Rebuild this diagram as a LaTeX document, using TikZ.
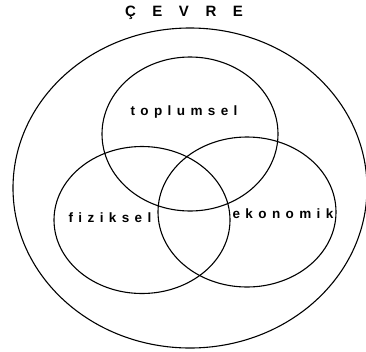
\documentclass[tikz,border=0pt]{standalone}
\usepackage{fontspec}
\setmainfont{Liberation Sans}
\usepackage{tikz}
\usetikzlibrary{shapes.geometric}
\newfontfamily\widefont[LetterSpace=40]{Liberation Sans}
\newfontfamily\titlefont[LetterSpace=110]{Liberation Sans}

\begin{document}
\begin{tikzpicture}[x=1pt, y=-1pt,
  ring/.style={ellipse, draw=black, line width=1.1pt, inner sep=0pt},
  word/.style={font=\widefont\fontsize{13.5}{15}\selectfont\bfseries, anchor=base, inner sep=0pt},
  heading/.style={font=\titlefont\fontsize{15}{17}\selectfont\bfseries, anchor=base, inner sep=0pt}
]
  \useasboundingbox (0,0) rectangle (366,351);
  % outer ring and the three areas
  \node[ring, minimum width=354pt, minimum height=320pt] (env) at (190,188) {};
  \node[ring, minimum width=176pt, minimum height=154pt] (soc) at (190,134) {};
  \node[ring, minimum width=176pt, minimum height=147pt] (phy) at (142,220) {};
  \node[ring, minimum width=178pt, minimum height=150pt] (eco) at (247,212) {};
  % labels
  \node[heading] (envlbl) at (184,16) {ÇEVRE};
  \node[word] (soclbl) at (184,115) {toplumsel};
  \node[word] (phylbl) at (110,222) {fiziksel};
  \node[word] (ecolbl) at (283,218) {ekonomik};
\end{tikzpicture}
\end{document}
